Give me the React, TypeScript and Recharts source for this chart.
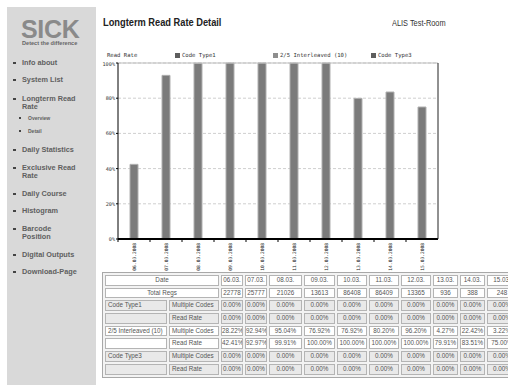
import React from 'react';
import { BarChart, Bar, XAxis, YAxis, CartesianGrid, ReferenceLine } from 'recharts';

// ---------- data ----------
const axisDates = ['06.03.2008', '07.03.2008', '08.03.2008', '09.03.2008', '10.03.2008', '11.03.2008', '12.03.2008', '13.03.2008', '14.03.2008', '15.03.2008'];
const tableDates = ['06.03.', '07.03.', '08.03.', '09.03.', '10.03.', '11.03.', '12.03.', '13.03.', '14.03.', '15.03.'];
const readRate = [42.41, 92.97, 99.91, 100, 100, 100, 100, 79.91, 83.51, 75.0];
const totalRegs = ['22778', '25777', '21026', '13613', '86408', '86409', '13365', '936', '388', '248'];
const type1Multi = ['0.00%', '0.00%', '0.00%', '0.00%', '0.00%', '0.00%', '0.00%', '0.00%', '0.00%', '0.00%'];
const type1Rate = ['0.00%', '0.00%', '0.00%', '0.00%', '0.00%', '0.00%', '0.00%', '0.00%', '0.00%', '0.00%'];
const interMulti = ['28.22%', '92.94%', '95.04%', '76.92%', '76.92%', '80.20%', '96.20%', '4.27%', '22.42%', '3.22%'];
const type3Multi = ['0.00%', '0.00%', '0.00%', '0.00%', '0.00%', '0.00%', '0.00%', '0.00%', '0.00%', '0.00%'];
const type3Rate = ['0.00%', '0.00%', '0.00%', '0.00%', '0.00%', '0.00%', '0.00%', '0.00%', '0.00%', '0.00%'];
const yTicks = [0, 20, 40, 60, 80, 100];
const legendNames = ['Code Type1', '2/5 Interleaved (10)', 'Code Type3'];
const legendColors = ['#5e5e5e', '#8e8e8e', '#5e5e5e'];

const chartData = axisDates.map((d, i) => ({ date: d, rate: readRate[i] }));

const MONO = '"DejaVu Sans Mono", monospace';
const SANS = 'Arial, "Liberation Sans", sans-serif';

const XTick = (props: any) => {
  const { x, y, payload } = props;
  return (
    <g>
      <line x1={x - 16} x2={x - 16} y1={y - 3} y2={y} stroke="#000" strokeWidth={1} />
      <text
        x={x}
        y={y + 1}
        transform={`rotate(-90 ${x} ${y + 1})`}
        textAnchor="end"
        dominantBaseline="central"
        fontFamily={MONO}
        fontSize={4.6}
        fill="#222"
      >
        {payload.value}
      </text>
    </g>
  );
};

const YTick = (props: any) => {
  const { x, y, payload } = props;
  return (
    <text x={x} y={y} textAnchor="end" dominantBaseline="central" fontFamily={MONO} fontSize={5.2} fill="#333">
      {payload.value}%
    </text>
  );
};

const MenuItem = ({ top, lines, sub }: { top: number; lines: string[]; sub?: boolean }) => (
  <div style={{ position: 'absolute', left: sub ? 19 : 13, top, fontFamily: SANS }}>
    <div
      style={{
        position: 'absolute',
        left: 0,
        top: sub ? 2.5 : 3,
        width: sub ? 2 : 2.6,
        height: sub ? 2 : 2.6,
        background: '#444',
      }}
    />
    <div
      style={{
        position: 'absolute',
        left: 9,
        top: 0,
        whiteSpace: 'nowrap',
        fontSize: sub ? 5 : 7.3,
        lineHeight: sub ? '7px' : '8.5px',
        fontWeight: 700,
        color: '#5f5f5f',
      }}
    >
      {lines.map((l, i) => (
        <div key={i}>{l}</div>
      ))}
    </div>
  </div>
);

const colWidths = [62, 50, 22, 22, 33, 31, 30, 30, 30, 25, 25, 30];

const cellBase: React.CSSProperties = {
  boxSizing: 'border-box',
  border: '1px solid #b4b4b4',
  fontSize: 6.3,
  lineHeight: '8.7px',
  color: '#555',
  whiteSpace: 'nowrap',
  overflow: 'hidden',
  fontFamily: SANS,
};

const Row = ({ label, kind, values, bg, colspanLabel }: { label: string; kind?: string; values: string[]; bg: string; colspanLabel?: boolean }) => (
  <>
    {colspanLabel ? (
      <div style={{ ...cellBase, background: bg, gridColumn: 'span 2', textAlign: 'center' }}>{label}</div>
    ) : (
      <>
        <div style={{ ...cellBase, background: bg, paddingLeft: 2 }}>{label}</div>
        <div style={{ ...cellBase, background: bg, paddingLeft: 2 }}>{kind}</div>
      </>
    )}
    {values.map((v, i) => (
      <div key={i} style={{ ...cellBase, background: bg, textAlign: 'center' }}>
        {v}
      </div>
    ))}
  </>
);

export default function App() {
  const gray = '#e9e9e9';
  const white = '#ffffff';
  return (
    <div style={{ position: 'fixed', left: 0, top: 0, width: 508, height: 385, overflow: 'hidden', background: '#fff', fontFamily: SANS }}>
      {/* sidebar */}
      <div style={{ position: 'absolute', left: 7, top: 7, width: 89, height: 378, background: '#d9d9d9' }} />
      <div style={{ position: 'absolute', left: 21, top: 18.5, fontSize: 25, fontWeight: 900, color: '#8a8a8a', letterSpacing: -0.3, lineHeight: '20px', fontFamily: SANS }}>
        SICK
      </div>
      <div style={{ position: 'absolute', left: 22, top: 40, fontSize: 5.6, fontWeight: 700, color: '#666', whiteSpace: 'nowrap', lineHeight: '7px' }}>
        Detect the difference
      </div>
      <MenuItem top={58.5} lines={['Info about']} />
      <MenuItem top={75.5} lines={['System List']} />
      <MenuItem top={94.5} lines={['Longterm Read', 'Rate']} />
      <MenuItem top={114.5} lines={['Overview']} sub />
      <MenuItem top={127.5} lines={['Detail']} sub />
      <MenuItem top={145.5} lines={['Daily Statistics']} />
      <MenuItem top={163.5} lines={['Exclusive Read', 'Rate']} />
      <MenuItem top={189.5} lines={['Daily Course']} />
      <MenuItem top={206.5} lines={['Histogram']} />
      <MenuItem top={224.5} lines={['Barcode', 'Position']} />
      <MenuItem top={250.5} lines={['Digital Outputs']} />
      <MenuItem top={267.5} lines={['Download-Page']} />

      {/* title */}
      <div style={{ position: 'absolute', left: 103, top: 16, fontSize: 10.3, fontWeight: 700, color: '#222', whiteSpace: 'nowrap', lineHeight: '14px', transform: 'scaleX(0.9)', transformOrigin: 'left center' }}>
        Longterm Read Rate Detail
      </div>
      <div style={{ position: 'absolute', left: 392, top: 17, fontSize: 9, color: '#333', whiteSpace: 'nowrap', lineHeight: '12px', transform: 'scaleX(0.82)', transformOrigin: 'left center' }}>
        ALIS Test-Room
      </div>

      {/* legend */}
      <div style={{ position: 'absolute', left: 107, top: 52, fontFamily: MONO, fontSize: 5.6, color: '#333', lineHeight: '6px', whiteSpace: 'nowrap' }}>
        Read Rate
      </div>
      {legendNames.map((n, i) => (
        <div key={n} style={{ position: 'absolute', left: 175 + i * 98, top: 52, whiteSpace: 'nowrap' }}>
          <div style={{ position: 'absolute', left: 0, top: 0.5, width: 5, height: 5, background: legendColors[i] }} />
          <div style={{ position: 'absolute', left: 7, top: 0, fontFamily: MONO, fontSize: 5.6, color: '#333', lineHeight: '6px' }}>{n}</div>
        </div>
      ))}

      {/* chart */}
      <div style={{ position: 'absolute', left: 95, top: 55 }}>
        <BarChart width={350} height={220} data={chartData} margin={{ top: 8, right: 6, bottom: 0, left: 3 }}>
          <CartesianGrid yAxisId="l" vertical={false} stroke="#cfcfcf" strokeDasharray="3 2" />
          <XAxis
            dataKey="date"
            height={36}
            interval={0}
            tick={<XTick />}
            tickLine={false}
            tickSize={3}
            tickMargin={0}
            axisLine={{ stroke: '#000', strokeWidth: 2 }}
          />
          <YAxis
            yAxisId="l"
            width={20}
            domain={[0, 100]}
            ticks={yTicks}
            tick={<YTick />}
            tickSize={2}
            tickMargin={1}
            tickLine={{ stroke: '#000' }}
            axisLine={{ stroke: '#000' }}
          />
          <YAxis yAxisId="r" orientation="right" width={1} domain={[0, 100]} tick={false} tickLine={false} axisLine={{ stroke: '#222' }} />
          <ReferenceLine yAxisId="l" y={100} stroke="#bdbdbd" />
          <Bar yAxisId="l" dataKey="rate" fill="#7b7b7b" stroke="#b0b0b0" strokeWidth={1} barSize={8} isAnimationActive={false} />
        </BarChart>
      </div>

      {/* table */}
      <div
        style={{
          position: 'absolute',
          left: 102,
          top: 272,
          border: '1px solid #a8a8a8',
          padding: 2,
          display: 'grid',
          gridTemplateColumns: colWidths.map((w) => `${w}px`).join(' '),
          gridAutoRows: '10.7px',
          gap: 2,
          background: '#f3f3f3',
        }}
      >
        <Row label="Date" values={tableDates} bg={white} colspanLabel />
        <Row label="Total Regs" values={totalRegs} bg={white} colspanLabel />
        <Row label="Code Type1" kind="Multiple Codes" values={type1Multi} bg={gray} />
        <Row label="" kind="Read Rate" values={type1Rate} bg={gray} />
        <Row label="2/5 Interleaved (10)" kind="Multiple Codes" values={interMulti} bg={white} />
        <Row label="" kind="Read Rate" values={readRate.map((v) => `${v.toFixed(2)}%`)} bg={white} />
        <Row label="Code Type3" kind="Multiple Codes" values={type3Multi} bg={gray} />
        <Row label="" kind="Read Rate" values={type3Rate} bg={gray} />
      </div>
    </div>
  );
}
